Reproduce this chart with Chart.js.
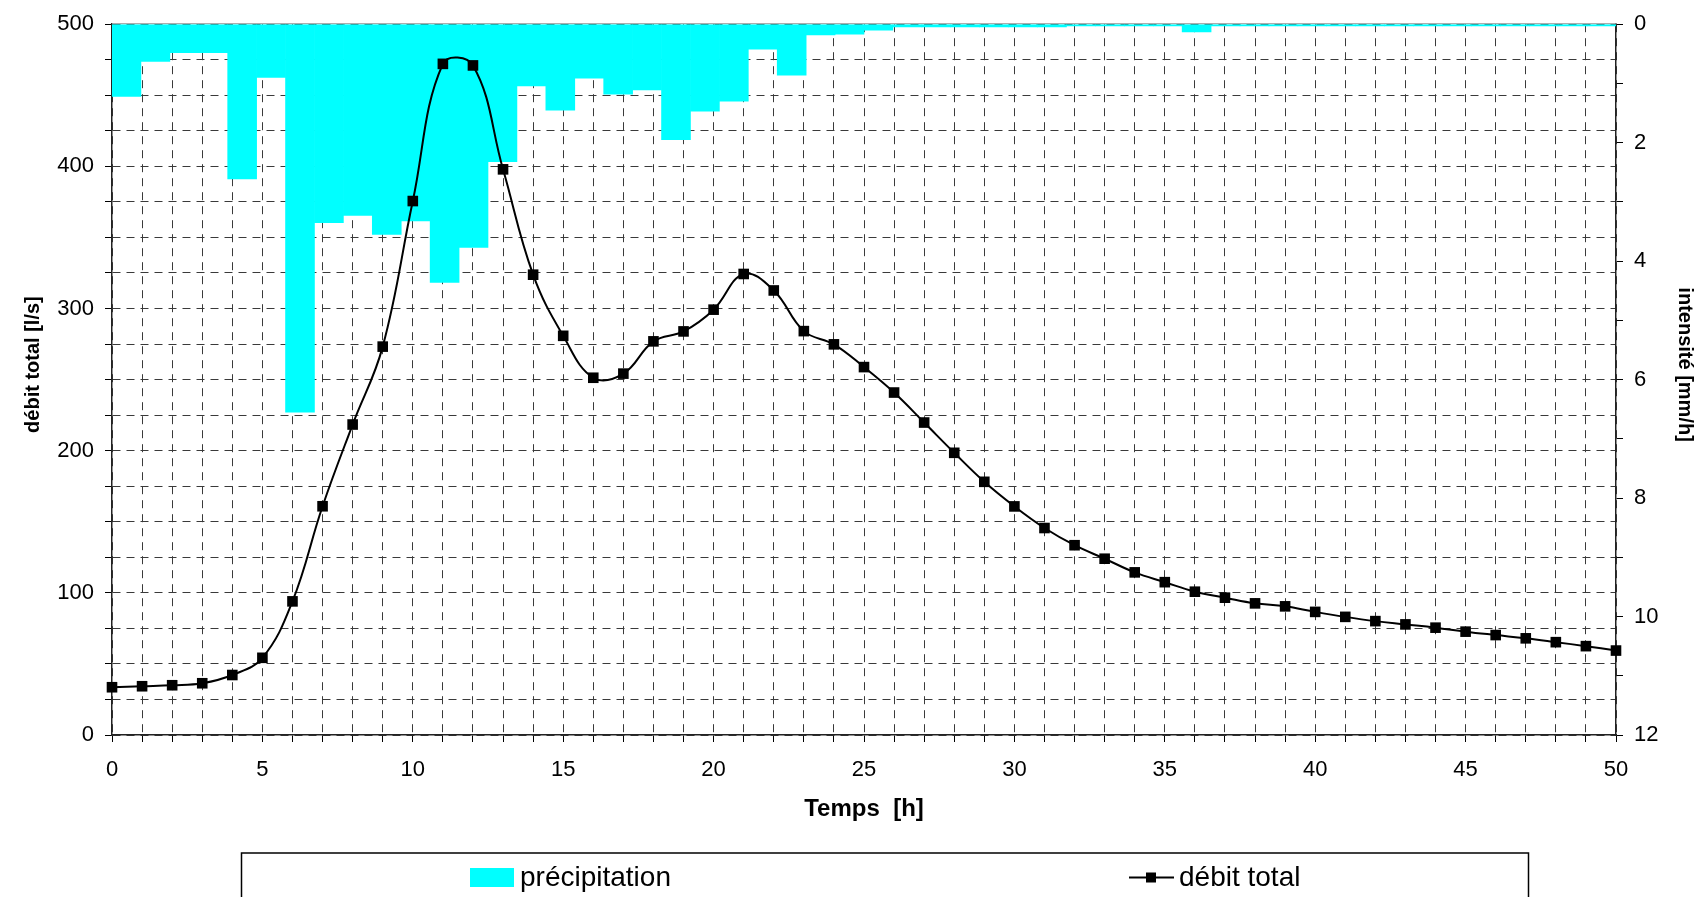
<!DOCTYPE html>
<html>
<head>
<meta charset="utf-8">
<title>débit total / précipitation</title>
<script src="https://cdn.jsdelivr.net/npm/chart.js@4.4.1/dist/chart.umd.min.js"></script>
<style>
    html, body { margin: 0; padding: 0; background: #fff; }
    canvas { display: block; }
</style>
</head>
<body>
<canvas id="hydroChart" width="1707" height="897"></canvas>
<script>
// ======================================
// Data
// ======================================

// hours of the flow series [h]
const hours = [
    0, 1, 2, 3, 4, 5, 6, 7, 8, 9,
    10, 11, 12, 13, 14, 15, 16, 17, 18, 19,
    20, 21, 22, 23, 24, 25, 26, 27, 28, 29,
    30, 31, 32, 33, 34, 35, 36, 37, 38, 39,
    40, 41, 42, 43, 44, 45, 46, 47, 48, 49, 50
];

// débit total [l/s]
const debitTotal = [
    33.6, 34.3, 35.0, 36.4, 42.2, 54.3, 94.0, 160.9, 218.4, 273.2,
    375.6, 472.1, 471.0, 397.9, 323.8, 280.8, 251.3, 254.2, 276.9, 283.9,
    299.2, 324.3, 312.7, 284.1, 274.8, 258.8, 240.9, 219.8, 198.5, 178.1,
    160.8, 145.6, 133.5, 124.0, 114.4, 107.5, 100.8, 96.6, 92.6, 90.5,
    86.6, 83.1, 80.1, 77.8, 75.5, 72.7, 70.3, 68.0, 65.3, 62.5, 59.4
];

// rain intervals (own category axis, 52 steps over the plot width)
const rainIntervals = [
    "1", "2", "3", "4", "5", "6", "7", "8", "9", "10",
    "11", "12", "13", "14", "15", "16", "17", "18", "19", "20",
    "21", "22", "23", "24", "25", "26", "27", "28", "29", "30",
    "31", "32", "33", "34", "35", "36", "37", "38", "39", "40",
    "41", "42", "43", "44", "45", "46", "47", "48", "49", "50",
    "51", "52"
];

// précipitation intensité [mm/h]
const precipitation = [
    1.22, 0.63, 0.48, 0.48, 2.61, 0.90, 6.55, 3.35, 3.23, 3.55,
    3.32, 4.36, 3.77, 2.32, 1.04, 1.45, 0.91, 1.18, 1.11, 1.95,
    1.47, 1.30, 0.42, 0.86, 0.18, 0.17, 0.10, 0.045, 0.045, 0.045,
    0.045, 0.045, 0.045, 0.03, 0.03, 0.03, 0.03, 0.13, 0.03, 0.03,
    0.03, 0.03, 0.03, 0.03, 0.03, 0.03, 0.03, 0.03, 0.03, 0.03,
    0.03, 0.03
];

// axis labels shown on the major ticks
const hourLabels = [0, 5, 10, 15, 20, 25, 30, 35, 40, 45, 50];
const debitLabels = [0, 100, 200, 300, 400, 500];
const intensityLabels = [0, 2, 4, 6, 8, 10, 12];

// axis titles
const xTitle = "Temps  [h]";
const yTitle = "débit total [l/s]";
const y2Title = "intensité [mm/h]";

// ======================================
// Styles
// ======================================

const FONT = "'Liberation Sans', Arial, Helvetica, sans-serif";
const RAIN_COLOR = "#00FFFF";
const LINE_COLOR = "#000000";
const GRID_COLOR = "#3a3a3a";
const GRID_DASH = [8, 6];

Chart.defaults.font.family = FONT;
Chart.defaults.color = "#000";

// ======================================
// Plugins
// ======================================

// thin grey frame line on top of the plot area
const topFramePlugin = {

    id: "topFrame",

    beforeDatasetsDraw(chart) {
        const { ctx, chartArea } = chart;
        ctx.save();
        ctx.strokeStyle = "#999";
        ctx.lineWidth = 1;
        ctx.beginPath();
        ctx.moveTo(chartArea.left, chartArea.top - 0.5);
        ctx.lineTo(chartArea.right, chartArea.top - 0.5);
        ctx.stroke();
        ctx.restore();
    }
};

// vertical axis titles, set a bit above the plot middle like the original
const sideTitlesPlugin = {

    id: "sideTitles",

    afterDraw(chart) {
        const ctx = chart.ctx;
        const midY = (chart.chartArea.top + chart.chartArea.bottom) / 2 - 15;

        ctx.save();
        ctx.font = "bold 20px " + FONT;
        ctx.fillStyle = "#000";
        ctx.textAlign = "center";
        ctx.textBaseline = "middle";

        ctx.save();
        ctx.translate(33, midY);
        ctx.rotate(-Math.PI / 2);
        ctx.fillText(yTitle, 0, 0);
        ctx.restore();

        ctx.save();
        ctx.translate(1685, midY);
        ctx.rotate(Math.PI / 2);
        ctx.fillText(y2Title, 0, 0);
        ctx.restore();

        ctx.restore();
    }
};

// boxed legend below the axis, as in the spreadsheet chart
const legendBoxPlugin = {

    id: "legendBox",

    afterDraw(chart) {
        const ctx = chart.ctx;
        const rainSet = chart.data.datasets[0];
        const flowSet = chart.data.datasets[1];

        ctx.save();

        ctx.strokeStyle = "#000";
        ctx.lineWidth = 1.5;
        ctx.strokeRect(241.5, 853, 1287, 80);

        ctx.font = "28px " + FONT;
        ctx.textBaseline = "alphabetic";
        ctx.textAlign = "left";

        // précipitation
        ctx.fillStyle = rainSet.backgroundColor;
        ctx.fillRect(470, 868, 44, 19);
        ctx.fillStyle = "#000";
        ctx.fillText(rainSet.label, 520, 886);

        // débit total
        ctx.strokeStyle = flowSet.borderColor;
        ctx.lineWidth = 2;
        ctx.beginPath();
        ctx.moveTo(1129, 877.5);
        ctx.lineTo(1174, 877.5);
        ctx.stroke();
        ctx.fillStyle = flowSet.pointBackgroundColor;
        ctx.fillRect(1146, 872.5, 10, 10);
        ctx.fillStyle = "#000";
        ctx.fillText(flowSet.label, 1179, 886);

        ctx.restore();
    }
};

// ======================================
// Chart
// ======================================

function tickFilter(allowed) {
    return function (value) {
        return allowed.includes(value) ? String(value) : "";
    };
}

function initializeChart() {

    const canvas = document.getElementById("hydroChart");

    const flowPoints = hours.map((h, i) => ({ x: h, y: debitTotal[i] }));

    return new Chart(canvas, {

        type: "bar",

        data: {
            datasets: [
                {
                    label: "précipitation",
                    data: precipitation,
                    xAxisID: "xb",
                    yAxisID: "y2",
                    backgroundColor: RAIN_COLOR,
                    borderWidth: 0,
                    grouped: false,
                    barPercentage: 1,
                    categoryPercentage: 1,
                    order: 2
                },
                {
                    type: "line",
                    label: "débit total",
                    data: flowPoints,
                    xAxisID: "x",
                    yAxisID: "y",
                    borderColor: LINE_COLOR,
                    borderWidth: 2,
                    backgroundColor: LINE_COLOR,
                    pointStyle: "rect",
                    pointRadius: 7.5,
                    pointBorderWidth: 0,
                    pointBackgroundColor: LINE_COLOR,
                    tension: 0.4,
                    fill: false,
                    clip: false,
                    order: 1
                }
            ]
        },

        options: {

            responsive: false,
            animation: false,
            devicePixelRatio: 1,

            layout: { padding: { top: 17, left: 0, right: 0, bottom: 0 } },

            plugins: {
                legend: { display: false },
                tooltip: { enabled: false }
            },

            scales: {

                x: {
                    type: "linear",
                    position: "bottom",
                    min: 0,
                    max: 50,
                    offset: false,
                    afterFit(scale) { scale.height = 162; },
                    ticks: {
                        stepSize: 1,
                        autoSkip: false,
                        maxRotation: 0,
                        padding: 15,
                        font: { size: 22 },
                        color: "#000",
                        callback: tickFilter(hourLabels)
                    },
                    grid: {
                        offset: false,
                        color: GRID_COLOR,
                        lineWidth: 1,
                        tickLength: 7,
                        tickColor: "#000",
                        tickBorderDash: []
                    },
                    border: { color: "#222", width: 1.5, dash: GRID_DASH },
                    title: {
                        display: true,
                        text: xTitle,
                        color: "#000",
                        font: { size: 24, weight: "bold" },
                        padding: { top: 0, bottom: 73 }
                    }
                },

                xb: {
                    type: "category",
                    labels: rainIntervals,
                    display: false,
                    offset: true
                },

                y: {
                    type: "linear",
                    position: "left",
                    min: 0,
                    max: 500,
                    afterFit(scale) { scale.width = 112; },
                    ticks: {
                        stepSize: 25,
                        autoSkip: false,
                        padding: 11,
                        font: { size: 22 },
                        color: "#000",
                        callback: tickFilter(debitLabels)
                    },
                    grid: {
                        color: GRID_COLOR,
                        lineWidth: 1,
                        tickLength: 7,
                        tickColor: "#000",
                        tickBorderDash: []
                    },
                    border: { color: "#222", width: 1.5, dash: GRID_DASH },
                    title: { display: false }
                },

                y2: {
                    type: "linear",
                    position: "right",
                    min: 0,
                    max: 12,
                    reverse: true,
                    afterFit(scale) { scale.width = 91; },
                    ticks: {
                        stepSize: 1,
                        autoSkip: false,
                        padding: 11,
                        font: { size: 22 },
                        color: "#000",
                        callback: tickFilter(intensityLabels)
                    },
                    grid: {
                        drawOnChartArea: false,
                        tickLength: 7,
                        tickColor: "#000",
                        tickBorderDash: []
                    },
                    border: { color: "#222", width: 1.5 },
                    title: { display: false }
                }
            }
        },

        plugins: [topFramePlugin, sideTitlesPlugin, legendBoxPlugin]
    });
}

initializeChart();
</script>
</body>
</html>
